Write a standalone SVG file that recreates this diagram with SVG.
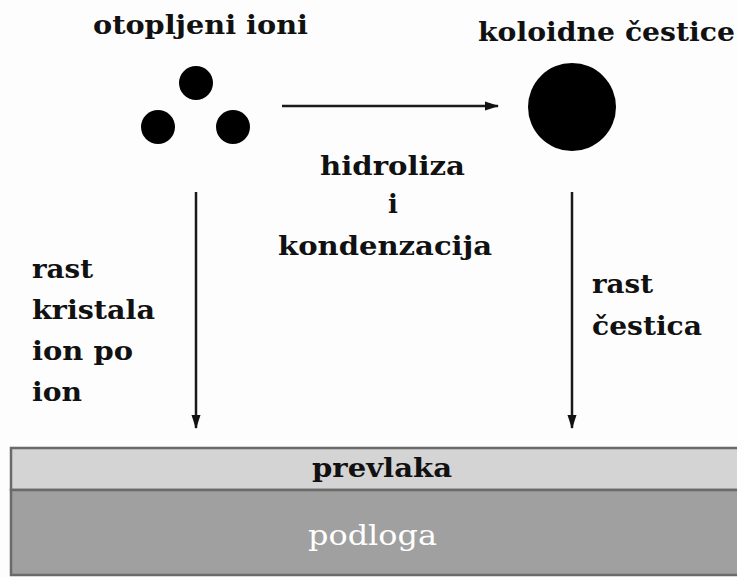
<svg xmlns="http://www.w3.org/2000/svg" width="737" height="577" viewBox="0 0 737 577">
  <defs>
    <marker id="ah" markerUnits="userSpaceOnUse" markerWidth="14" markerHeight="12" viewBox="0 0 14 12" refX="13" refY="6" orient="auto">
      <path d="M0,1.5 L14,6 L0,10.5 Z" fill="#111"/>
    </marker>
  </defs>
  <style>
    .t { font-family: "DejaVu Serif", "Liberation Serif", serif; font-weight: bold; font-size: 26px; fill: #111; }
    .w { font-family: "DejaVu Serif", "Liberation Serif", serif; font-weight: normal; font-size: 28px; fill: #ffffff; }
    .c { stroke: #1a1a1a; stroke-width: 2.5; fill: none; marker-end: url(#ah); }
    .dot { fill: #000; }
  </style>
  <rect width="737" height="577" fill="#fdfdfd"/>

  <g id="otopljeni-ioni">
    <text class="t" x="93" y="34" textLength="215" lengthAdjust="spacingAndGlyphs">otopljeni ioni</text>
    <circle class="dot" cx="196" cy="83" r="17"/>
    <circle class="dot" cx="158" cy="127" r="17"/>
    <circle class="dot" cx="233" cy="127" r="17"/>
  </g>

  <g id="koloidne-cestice">
    <text class="t" x="478" y="41" textLength="257" lengthAdjust="spacingAndGlyphs">koloidne čestice</text>
    <circle class="dot" cx="572" cy="107" r="44"/>
  </g>

  <g id="label-hidroliza">
    <text class="t" x="320" y="175" textLength="145" lengthAdjust="spacingAndGlyphs">hidroliza</text>
    <text class="t" x="393" y="213" text-anchor="middle">i</text>
    <text class="t" x="278" y="255" textLength="214" lengthAdjust="spacingAndGlyphs">kondenzacija</text>
  </g>

  <g id="label-rast-kristala">
    <text class="t" x="32" y="278" textLength="61" lengthAdjust="spacingAndGlyphs">rast</text>
    <text class="t" x="32" y="319" textLength="123" lengthAdjust="spacingAndGlyphs">kristala</text>
    <text class="t" x="32" y="360" textLength="101" lengthAdjust="spacingAndGlyphs">ion po</text>
    <text class="t" x="32" y="401" textLength="50" lengthAdjust="spacingAndGlyphs">ion</text>
  </g>

  <g id="label-rast-cestica">
    <text class="t" x="592" y="293" textLength="61" lengthAdjust="spacingAndGlyphs">rast</text>
    <text class="t" x="592" y="335" textLength="110" lengthAdjust="spacingAndGlyphs">čestica</text>
  </g>

  <g id="prevlaka">
    <rect x="11" y="448" width="730" height="42" fill="#d4d4d4" stroke="#6a6a6a" stroke-width="2.5"/>
    <text class="t" x="312" y="477" textLength="140" lengthAdjust="spacingAndGlyphs">prevlaka</text>
  </g>

  <g id="podloga">
    <rect x="11" y="490" width="730" height="85" fill="#a0a0a0" stroke="#6a6a6a" stroke-width="2.5"/>
    <text class="w" x="308" y="545" textLength="129" lengthAdjust="spacingAndGlyphs">podloga</text>
  </g>

  <g id="connectors">
    <line class="c" x1="282" y1="106" x2="498" y2="106"/>
    <line class="c" x1="196" y1="192" x2="196" y2="428"/>
    <line class="c" x1="572" y1="192" x2="572" y2="428"/>
  </g>
</svg>
